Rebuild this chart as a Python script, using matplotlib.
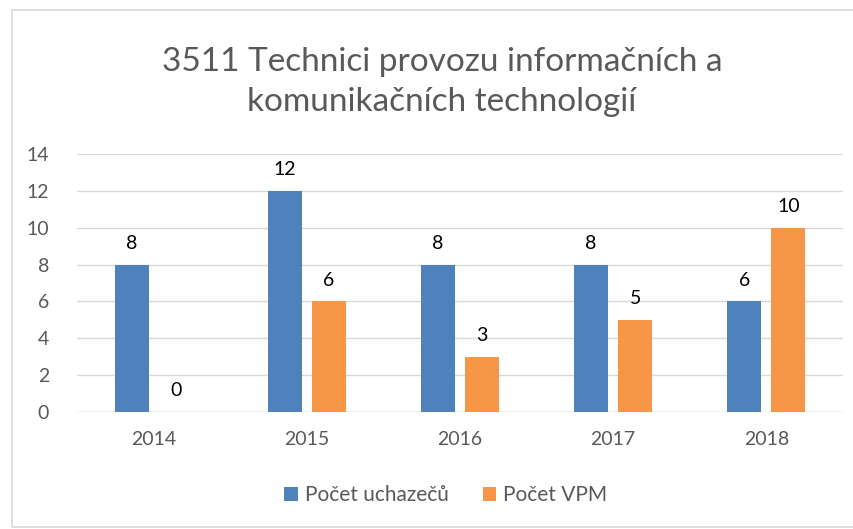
import matplotlib
matplotlib.use("Agg")
import matplotlib.pyplot as plt
import numpy as np
from matplotlib.patches import Rectangle

categories = ["2014", "2015", "2016", "2017", "2018"]
uchazecu = [8, 12, 8, 8, 6]
vpm = [0, 6, 3, 5, 10]
series_names = ["Počet uchazečů", "Počet VPM"]
title = "3511 Technici provozu informačních a\nkomunikačních technologií"

plt.rcParams['font.family'] = ['Lato', 'DejaVu Sans']

W, H = 854, 529
fig = plt.figure(figsize=(W/100, H/100), dpi=100)
fig.patches.append(Rectangle((12/W, 1-527/H), (860-12)/W, (527-10)/H, transform=fig.transFigure,
                             fill=False, edgecolor='#D9D9D9', linewidth=1.2))
ax = fig.add_axes([77/W, 1-412/H, (843-77)/W, (412-154)/H])

x = np.arange(len(categories))
bw = 0.222
off = 0.144
blue = '#4F81BD'
orange = '#F79646'
b1 = ax.bar(x - off, uchazecu, bw, color=blue, label=series_names[0], zorder=3)
b2 = ax.bar(x + off, vpm, bw, color=orange, label=series_names[1], zorder=3)

for bars, vals in ((b1, uchazecu), (b2, vpm)):
    for r, v in zip(bars, vals):
        ax.annotate(str(v), (r.get_x() + r.get_width()/2, v), xytext=(0, 9),
                    textcoords='offset points', ha='center', va='bottom',
                    fontsize=14, color='black')

ax.set_xlim(-0.5, len(categories) - 0.5)
ax.set_ylim(0, 14)
ax.set_yticks(range(0, 15, 2))
ax.set_xticks(x)
ax.set_xticklabels(categories)
ax.grid(axis='y', color='#D9D9D9', linewidth=1, zorder=0)
for s in ax.spines.values():
    s.set_visible(False)
ax.tick_params(axis='both', length=0, labelsize=14, labelcolor='#595959')
ax.tick_params(axis='y', pad=20)
ax.tick_params(axis='x', pad=14)
ax.axhline(0, color='#D9D9D9', linewidth=1, zorder=1)

fig.text(442/W, 1-82/H, title, ha='center', va='center', fontsize=24,
         color='#595959', linespacing=1.45, fontweight='normal')

leg = fig.legend(handles=[b1, b2], loc='center', bbox_to_anchor=(446/W, 1-495/H),
                 ncol=2, frameon=False, fontsize=15, handlelength=0.65, handleheight=0.65,
                 columnspacing=1.6, handletextpad=0.35)
for t in leg.get_texts():
    t.set_color('#595959')

fig.savefig('out.png', dpi=100)
